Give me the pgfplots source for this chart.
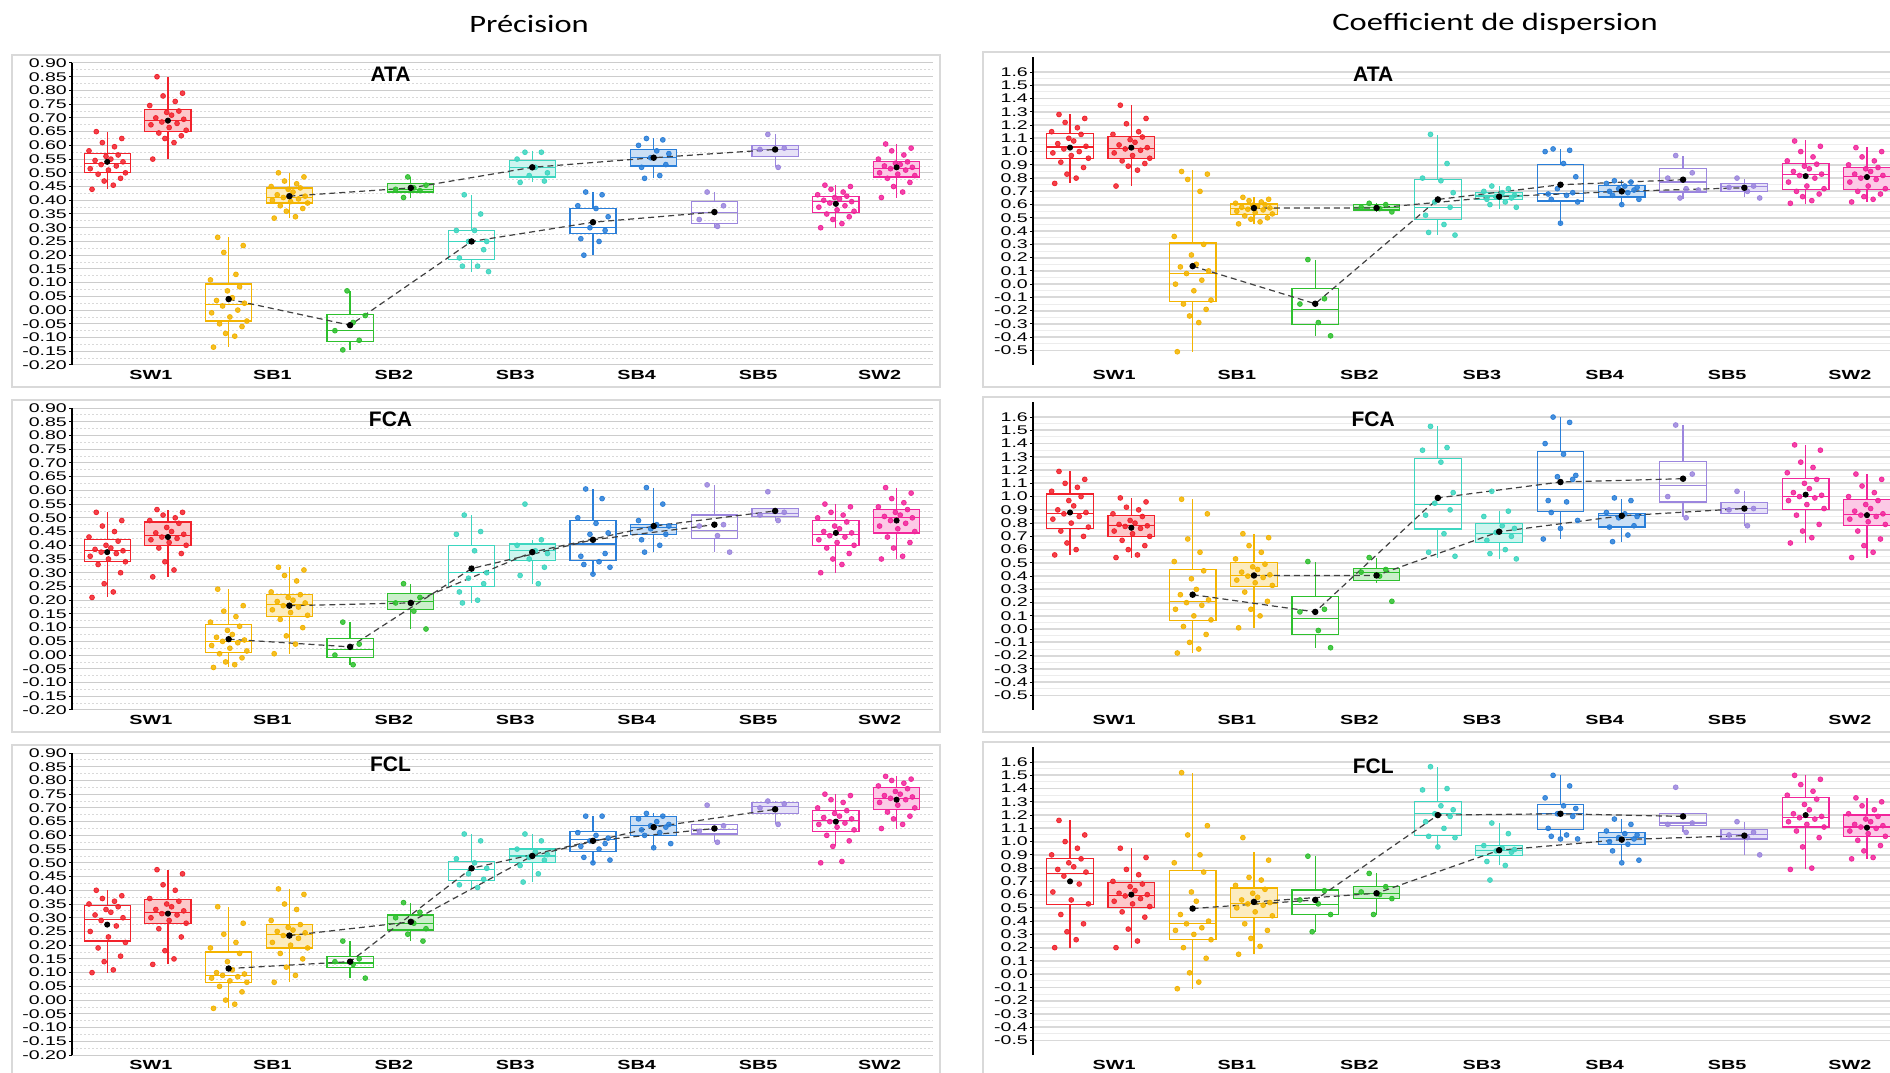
\documentclass[border=0pt]{standalone}
\usepackage{pgfplots}
\pgfplotsset{compat=1.18}
\usepgfplotslibrary{statistics}
\usepackage{fontspec}
\setmainfont{Liberation Sans}
\newfontfamily\carlito{Carlito}
\definecolor{cRed}{HTML}{F2222C}
\definecolor{cOra}{HTML}{F4B400}
\definecolor{cGre}{HTML}{2EC02E}
\definecolor{cCya}{HTML}{3DD6C0}
\definecolor{cBlu}{HTML}{2A7FD9}
\definecolor{cPur}{HTML}{9C86DE}
\definecolor{cMag}{HTML}{F2259B}
\newcommand{\BO}[7]{\addplot[draw=#2, line width=0.6pt, boxplot prepared={draw direction=y, draw position=#1, lower whisker=#3, lower quartile=#4, median=#5, upper quartile=#6, upper whisker=#7, box extend=0.76, whisker extend=0}] coordinates {};}
\newcommand{\BF}[7]{\addplot[draw=#2, fill=#2!25, line width=0.6pt, boxplot prepared={draw direction=y, draw position=#1, lower whisker=#3, lower quartile=#4, median=#5, upper quartile=#6, upper whisker=#7, box extend=0.76, whisker extend=0}] coordinates {};}
\newcommand{\PTS}[2]{\addplot[only marks, mark=*, mark size=1.2pt, color=#1, mark options={draw=none, fill=#1, fill opacity=0.85}] coordinates {#2};}
\newcommand{\MEANS}[1]{\addplot[only marks, mark=*, mark size=1.3pt, black] coordinates {#1};}
\newcommand{\LINE}[1]{\addplot[black!75, line width=0.6pt, dash pattern=on 3pt off 2pt, mark=*, mark size=1.3pt, mark options={solid, fill=black, draw=black}] coordinates {#1};}
\tikzset{ptitle/.style={font=\bfseries\fontsize{10.5}{12}\selectfont}}
\pgfplotsset{
  basep/.style={scale only axis, axis y line*=left, axis x line*=bottom,
    x axis line style={draw=none}, y axis line style={black, line width=0.6pt},
    xtick={1.72,3.72,5.72,7.72,9.72,11.72,13.72},
    xticklabels={SW1,SB1,SB2,SB3,SB4,SB5,SW2},
    xtick style={draw=none}, ytick style={black, line width=0.5pt},
    tick align=outside, major tick length=1.5pt, minor tick length=0pt,
    ymajorgrids, yminorgrids, scaled y ticks=false,
    /pgf/number format/assume math mode=true,
    xticklabel style={font=\bfseries\fontsize{6.6}{7}\selectfont, xscale=1.5, inner sep=1pt},
    clip=true},
  leftp/.style={basep, width=430.5pt, height=151pt, xmin=0.42, xmax=14.6, ymin=-0.2, ymax=0.9,
    ytick={-0.2,-0.15,-0.1,-0.05,0,0.05,0.1,0.15,0.2,0.25,0.3,0.35,0.4,0.45,0.5,0.55,0.6,0.65,0.7,0.75,0.8,0.85,0.9},
    minor ytick={-0.175,-0.125,-0.075,-0.025,0.025,0.075,0.125,0.175,0.225,0.275,0.325,0.375,0.425,0.475,0.525,0.575,0.625,0.675,0.725,0.775,0.825,0.875},
    yticklabel style={/pgf/number format/fixed, /pgf/number format/fixed zerofill, /pgf/number format/precision=2, /pgf/number format/assume math mode=true, font=\fontsize{6.3}{7}\selectfont, xscale=1.55, inner xsep=0.5pt},
    major grid style={gray!40, line width=0.5pt},
    minor grid style={gray!30, dash pattern=on 1pt off 1pt, line width=0.4pt}},
  rightp/.style={basep, width=428.5pt, height=153.75pt, xmin=0.396, xmax=14.376, ymin=-0.61, ymax=1.71,
    ytick={-0.5,-0.4,-0.3,-0.2,-0.1,0,0.1,0.2,0.3,0.4,0.5,0.6,0.7,0.8,0.9,1.0,1.1,1.2,1.3,1.4,1.5,1.6},
    minor ytick={-0.45,-0.35,-0.25,-0.15,-0.05,0.05,0.15,0.25,0.35,0.45,0.55,0.65,0.75,0.85,0.95,1.05,1.15,1.25,1.35,1.45,1.55},
    yticklabel style={/pgf/number format/fixed, /pgf/number format/fixed zerofill, /pgf/number format/precision=1, /pgf/number format/assume math mode=true, font=\fontsize{6.3}{7}\selectfont, xscale=1.55, inner xsep=0.5pt},
    major grid style={gray!30, line width=0.9pt},
    minor grid style={gray!15, line width=0.5pt}}
}
\begin{document}
\begin{tikzpicture}
\useasboundingbox (0,0) rectangle (945pt,536pt);
\clip (0,0) rectangle (945pt,536pt);
\fill[white] (0,0) rectangle (945pt,536pt);
% frames
\draw[gray!30, line width=1pt] (6pt,342.5pt) rectangle (470pt,508.5pt);
\draw[gray!30, line width=1pt] (6pt,170pt) rectangle (470pt,336pt);
\draw[gray!30, line width=1pt] (6pt,-1.5pt) rectangle (470pt,163.5pt);
\draw[gray!30, line width=1pt] (491.5pt,342.5pt) rectangle (947.5pt,510pt);
\draw[gray!30, line width=1pt] (491.5pt,170pt) rectangle (947.5pt,337.5pt);
\draw[gray!30, line width=1pt] (491.5pt,-1.5pt) rectangle (947.5pt,165pt);
\node[font=\carlito\fontsize{12.5}{14}\selectfont, xscale=1.3] at (264.5pt,524pt) {Précision};
\node[font=\carlito\fontsize{12.5}{14}\selectfont, xscale=1.3] at (747.5pt,524pt) {Coefficient de dispersion};

% ===== A1 =====
\begin{axis}[leftp, at={(36pt,353.5pt)}, anchor=south west]
\BO{1}{cRed}{0.44}{0.50}{0.535}{0.57}{0.65}
\PTS{cRed}{(0.75,0.44)(1.1,0.455)(0.95,0.47)(1.22,0.48)(0.85,0.495)(1.3,0.50)(1.02,0.51)(0.72,0.515)(1.15,0.525)(0.9,0.53)(1.26,0.54)(0.8,0.545)(1.06,0.55)(0.98,0.56)(1.18,0.565)(0.7,0.58)(1.12,0.595)(0.92,0.61)(1.24,0.625)(0.82,0.65)}
\BF{2}{cRed}{0.55}{0.65}{0.69}{0.73}{0.85}
\PTS{cRed}{(1.75,0.55)(2.1,0.61)(1.95,0.625)(2.22,0.635)(1.85,0.645)(2.3,0.655)(2.02,0.665)(1.72,0.675)(2.15,0.68)(1.9,0.685)(2.26,0.695)(1.8,0.70)(2.06,0.71)(1.98,0.72)(2.18,0.725)(1.7,0.745)(2.12,0.76)(1.92,0.78)(2.24,0.79)(1.82,0.85)}
\BO{3}{cOra}{-0.135}{-0.04}{0.02}{0.095}{0.265}
\PTS{cOra}{(2.75,-0.135)(3.1,-0.095)(2.95,-0.085)(3.22,-0.06)(2.85,-0.05)(3.3,-0.04)(3.02,-0.025)(2.72,-0.01)(3.15,0)(2.9,0.015)(3.26,0.025)(2.8,0.035)(3.06,0.045)(2.98,0.07)(3.18,0.085)(2.7,0.11)(3.12,0.13)(2.92,0.21)(3.24,0.235)(2.82,0.265)}
\BF{4}{cOra}{0.335}{0.39}{0.41}{0.445}{0.50}
\PTS{cOra}{(3.75,0.335)(4.1,0.34)(3.95,0.36)(4.22,0.37)(3.85,0.38)(4.3,0.39)(4.02,0.395)(3.72,0.40)(4.15,0.405)(3.9,0.41)(4.26,0.415)(3.8,0.42)(4.06,0.43)(3.98,0.44)(4.18,0.445)(3.7,0.45)(4.12,0.46)(3.92,0.47)(4.24,0.485)(3.82,0.50)}
\BO{5}{cGre}{-0.145}{-0.115}{-0.075}{-0.015}{0.07}
\PTS{cGre}{(4.88,-0.145)(5.15,-0.11)(4.75,-0.075)(5.05,-0.045)(5.25,-0.02)(4.95,0.07)}
\BF{6}{cGre}{0.41}{0.43}{0.44}{0.46}{0.485}
\PTS{cGre}{(5.88,0.41)(6.15,0.435)(5.75,0.44)(6.05,0.445)(6.25,0.455)(5.95,0.485)}
\BO{7}{cCya}{0.14}{0.185}{0.25}{0.29}{0.42}
\PTS{cCya}{(6.88,0.42)(7.15,0.35)(6.75,0.29)(7.05,0.29)(7.25,0.25)(6.95,0.25)(7.2,0.22)(6.8,0.19)(7.1,0.16)(6.85,0.16)(7.28,0.14)}
\BF{8}{cCya}{0.465}{0.485}{0.52}{0.545}{0.58}
\PTS{cCya}{(7.88,0.575)(8.15,0.575)(7.75,0.55)(8.05,0.52)(8.25,0.50)(7.95,0.49)(8.2,0.47)(7.8,0.465)}
\BO{9}{cBlu}{0.20}{0.28}{0.30}{0.37}{0.43}
\PTS{cBlu}{(8.88,0.43)(9.15,0.42)(8.75,0.38)(9.05,0.37)(9.25,0.34)(8.95,0.30)(9.2,0.29)(8.8,0.26)(9.1,0.25)(8.85,0.20)}
\BF{10}{cBlu}{0.48}{0.525}{0.555}{0.585}{0.625}
\PTS{cBlu}{(9.88,0.625)(10.15,0.62)(9.75,0.60)(10.05,0.58)(10.25,0.57)(9.95,0.555)(10.2,0.53)(9.8,0.52)(10.1,0.49)(9.85,0.48)}
\BO{11}{cPur}{0.30}{0.315}{0.355}{0.395}{0.43}
\PTS{cPur}{(10.88,0.43)(11.15,0.38)(10.75,0.33)(11.05,0.305)}
\BF{12}{cPur}{0.52}{0.56}{0.585}{0.60}{0.64}
\PTS{cPur}{(11.88,0.64)(12.15,0.59)(11.75,0.585)(12.05,0.52)}
\BO{13}{cMag}{0.30}{0.355}{0.395}{0.415}{0.455}
\PTS{cMag}{(12.75,0.30)(13.1,0.315)(12.95,0.33)(13.22,0.34)(12.85,0.35)(13.3,0.36)(13.02,0.365)(12.72,0.375)(13.15,0.38)(12.9,0.39)(13.26,0.395)(12.8,0.40)(13.06,0.405)(12.98,0.41)(13.18,0.415)(12.7,0.42)(13.12,0.43)(12.92,0.44)(13.24,0.45)(12.82,0.455)}
\BF{14}{cMag}{0.41}{0.485}{0.517}{0.54}{0.605}
\PTS{cMag}{(13.75,0.41)(14.1,0.43)(13.95,0.45)(14.22,0.465)(13.85,0.48)(14.3,0.49)(14.02,0.495)(13.72,0.50)(14.15,0.51)(13.9,0.515)(14.26,0.52)(13.8,0.525)(14.06,0.53)(13.98,0.535)(14.18,0.54)(13.7,0.55)(14.12,0.565)(13.92,0.58)(14.24,0.59)(13.82,0.605)}
\MEANS{(1,0.54)(2,0.69)(13,0.387)(14,0.52)}
\LINE{(3,0.04)(5,-0.055)(7,0.25)(9,0.32)(11,0.357)}
\LINE{(4,0.415)(6,0.445)(8,0.52)(10,0.555)(12,0.585)}
\node[ptitle] at (rel axis cs:0.37,0.964) {ATA};
\end{axis}

% ===== B1 =====
\begin{axis}[rightp, at={(516.5pt,353.5pt)}, anchor=south west]
\BO{1}{cRed}{0.76}{0.95}{1.035}{1.135}{1.28}
\PTS{cRed}{(0.75,0.76)(1.1,0.80)(0.95,0.83)(1.22,0.88)(0.85,0.92)(1.3,0.95)(1.02,0.97)(0.72,0.99)(1.15,1.0)(0.9,1.02)(1.26,1.04)(0.8,1.06)(1.06,1.08)(0.98,1.10)(1.18,1.13)(0.7,1.15)(1.12,1.18)(0.92,1.22)(1.24,1.25)(0.82,1.28)}
\BF{2}{cRed}{0.74}{0.95}{1.025}{1.115}{1.35}
\PTS{cRed}{(1.75,0.74)(2.1,0.86)(1.95,0.89)(2.22,0.91)(1.85,0.93)(2.3,0.95)(2.02,0.97)(1.72,0.99)(2.15,1.01)(1.9,1.02)(2.26,1.03)(1.8,1.05)(2.06,1.07)(1.98,1.09)(2.18,1.11)(1.7,1.13)(2.12,1.15)(1.92,1.21)(2.24,1.25)(1.82,1.35)}
\BO{3}{cOra}{-0.51}{-0.13}{0.083}{0.31}{0.858}
\PTS{cOra}{(2.75,-0.51)(3.1,-0.29)(2.95,-0.24)(3.22,-0.19)(2.85,-0.15)(3.3,-0.12)(3.02,-0.05)(2.72,0.0)(3.15,0.03)(2.9,0.08)(3.26,0.10)(2.8,0.13)(3.06,0.15)(2.98,0.22)(3.18,0.30)(2.7,0.36)(3.12,0.70)(2.92,0.79)(3.24,0.83)(2.82,0.85)}
\BF{4}{cOra}{0.455}{0.525}{0.57}{0.605}{0.655}
\PTS{cOra}{(3.75,0.455)(4.1,0.47)(3.95,0.49)(4.22,0.50)(3.85,0.515)(4.3,0.53)(4.02,0.54)(3.72,0.55)(4.15,0.56)(3.9,0.565)(4.26,0.575)(3.8,0.58)(4.06,0.59)(3.98,0.595)(4.18,0.60)(3.7,0.61)(4.12,0.62)(3.92,0.63)(4.24,0.64)(3.82,0.655)}
\BO{5}{cGre}{-0.39}{-0.305}{-0.19}{-0.03}{0.185}
\PTS{cGre}{(4.88,0.185)(5.15,-0.11)(4.75,-0.15)(5.05,-0.29)(5.25,-0.39)}
\BF{6}{cGre}{0.545}{0.56}{0.58}{0.60}{0.61}
\PTS{cGre}{(5.88,0.61)(6.15,0.60)(5.75,0.58)(6.05,0.57)(6.25,0.545)}
\BO{7}{cCya}{0.37}{0.486}{0.58}{0.788}{1.127}
\PTS{cCya}{(6.88,1.13)(7.15,0.91)(6.75,0.80)(7.05,0.78)(7.25,0.69)(6.95,0.62)(7.2,0.58)(6.8,0.52)(7.1,0.45)(6.85,0.39)(7.28,0.37)}
\BF{8}{cCya}{0.57}{0.64}{0.665}{0.694}{0.74}
\PTS{cCya}{(7.88,0.74)(8.15,0.72)(7.75,0.70)(8.05,0.69)(8.25,0.67)(7.95,0.66)(8.2,0.65)(7.8,0.64)(8.1,0.62)(7.85,0.60)(8.28,0.58)}
\BO{9}{cBlu}{0.455}{0.627}{0.682}{0.903}{1.02}
\PTS{cBlu}{(8.88,1.02)(9.15,1.01)(8.75,1.0)(9.05,0.91)(9.25,0.81)(8.95,0.72)(9.2,0.69)(8.8,0.68)(9.1,0.67)(8.85,0.64)(9.28,0.62)(9.0,0.46)}
\BF{10}{cBlu}{0.594}{0.657}{0.70}{0.745}{0.782}
\PTS{cBlu}{(9.88,0.78)(10.15,0.77)(9.75,0.76)(10.05,0.74)(10.25,0.73)(9.95,0.72)(10.2,0.71)(9.8,0.70)(10.1,0.69)(9.85,0.67)(10.28,0.64)(10.0,0.60)}
\BO{11}{cPur}{0.644}{0.695}{0.77}{0.87}{0.964}
\PTS{cPur}{(10.88,0.97)(11.15,0.84)(10.75,0.80)(11.05,0.72)(11.25,0.71)(10.95,0.65)}
\BF{12}{cPur}{0.657}{0.70}{0.737}{0.762}{0.795}
\PTS{cPur}{(11.88,0.80)(12.15,0.74)(11.75,0.73)(12.05,0.70)(12.25,0.65)}
\BO{13}{cMag}{0.607}{0.712}{0.825}{0.908}{1.084}
\PTS{cMag}{(12.75,0.61)(13.1,0.63)(12.95,0.66)(13.22,0.68)(12.85,0.70)(13.3,0.72)(13.02,0.74)(12.72,0.77)(13.15,0.80)(12.9,0.82)(13.26,0.83)(12.8,0.85)(13.06,0.87)(12.98,0.89)(13.18,0.905)(12.7,0.93)(13.12,0.96)(12.92,1.0)(13.24,1.04)(12.82,1.08)}
\BF{14}{cMag}{0.619}{0.712}{0.813}{0.883}{1.034}
\PTS{cMag}{(13.75,0.62)(14.1,0.64)(13.95,0.66)(14.22,0.68)(13.85,0.70)(14.3,0.72)(14.02,0.74)(13.72,0.77)(14.15,0.79)(13.9,0.80)(14.26,0.82)(13.8,0.83)(14.06,0.85)(13.98,0.87)(14.18,0.88)(13.7,0.90)(14.12,0.93)(13.92,0.96)(14.24,1.0)(13.82,1.03)}
\MEANS{(1,1.03)(2,1.03)(13,0.815)(14,0.808)}
\LINE{(3,0.136)(5,-0.148)(7,0.639)(9,0.75)(11,0.788)}
\LINE{(4,0.574)(6,0.575)(8,0.66)(10,0.70)(12,0.727)}
\node[ptitle] at (rel axis cs:0.397,0.946) {ATA};
\end{axis}

% ===== A2 =====
\begin{axis}[leftp, at={(36pt,181pt)}, anchor=south west]
\BO{1}{cRed}{0.21}{0.34}{0.38}{0.42}{0.52}
\PTS{cRed}{(0.75,0.21)(1.1,0.23)(0.95,0.26)(1.22,0.30)(0.85,0.33)(1.3,0.34)(1.02,0.35)(0.72,0.36)(1.15,0.37)(0.9,0.375)(1.26,0.38)(0.8,0.385)(1.06,0.39)(0.98,0.40)(1.18,0.415)(0.7,0.43)(1.12,0.45)(0.92,0.47)(1.24,0.49)(0.82,0.52)}
\BF{2}{cRed}{0.285}{0.40}{0.435}{0.485}{0.53}
\PTS{cRed}{(1.75,0.285)(2.1,0.31)(1.95,0.34)(2.22,0.37)(1.85,0.39)(2.3,0.40)(2.02,0.41)(1.72,0.42)(2.15,0.425)(1.9,0.43)(2.26,0.44)(1.8,0.445)(2.06,0.45)(1.98,0.465)(2.18,0.48)(1.7,0.49)(2.12,0.50)(1.92,0.51)(2.24,0.52)(1.82,0.53)}
\BO{3}{cOra}{-0.045}{0.01}{0.05}{0.11}{0.24}
\PTS{cOra}{(2.75,-0.045)(3.1,-0.035)(2.95,-0.025)(3.22,-0.01)(2.85,0.005)(3.3,0.015)(3.02,0.025)(2.72,0.035)(3.15,0.045)(2.9,0.05)(3.26,0.055)(2.8,0.065)(3.06,0.075)(2.98,0.09)(3.18,0.105)(2.7,0.12)(3.12,0.14)(2.92,0.16)(3.24,0.18)(2.82,0.24)}
\BF{4}{cOra}{0.005}{0.14}{0.185}{0.22}{0.32}
\PTS{cOra}{(3.75,0.005)(4.1,0.04)(3.95,0.07)(4.22,0.10)(3.85,0.13)(4.3,0.145)(4.02,0.155)(3.72,0.165)(4.15,0.175)(3.9,0.18)(4.26,0.19)(3.8,0.195)(4.06,0.20)(3.98,0.21)(4.18,0.22)(3.7,0.23)(4.12,0.27)(3.92,0.29)(4.24,0.31)(3.82,0.32)}
\BO{5}{cGre}{-0.035}{-0.01}{0.02}{0.06}{0.12}
\PTS{cGre}{(4.88,0.12)(5.15,0.04)(4.75,0.0)(5.05,-0.035)}
\BF{6}{cGre}{0.095}{0.165}{0.195}{0.225}{0.26}
\PTS{cGre}{(5.88,0.26)(6.15,0.21)(5.75,0.19)(6.05,0.16)(6.25,0.095)}
\BO{7}{cCya}{0.19}{0.25}{0.30}{0.40}{0.51}
\PTS{cCya}{(6.88,0.51)(7.15,0.45)(6.75,0.44)(7.05,0.38)(7.25,0.30)(6.95,0.28)(7.2,0.26)(6.8,0.23)(7.1,0.20)(6.85,0.19)}
\BF{8}{cCya}{0.26}{0.345}{0.38}{0.405}{0.42}
\PTS{cCya}{(7.88,0.55)(8.15,0.42)(7.75,0.40)(8.05,0.38)(8.25,0.37)(7.95,0.35)(8.2,0.32)(7.8,0.29)(8.1,0.26)}
\BO{9}{cBlu}{0.295}{0.345}{0.405}{0.49}{0.605}
\PTS{cBlu}{(8.88,0.605)(9.15,0.57)(8.75,0.50)(9.05,0.48)(9.25,0.445)(8.95,0.44)(9.2,0.37)(8.8,0.36)(9.1,0.34)(8.85,0.33)(9.28,0.32)(9.0,0.295)}
\BF{10}{cBlu}{0.375}{0.44}{0.465}{0.475}{0.61}
\PTS{cBlu}{(9.88,0.61)(10.15,0.55)(9.75,0.49)(10.05,0.475)(10.25,0.47)(9.95,0.46)(10.2,0.44)(9.8,0.42)(10.1,0.40)(9.85,0.375)}
\BO{11}{cPur}{0.375}{0.425}{0.455}{0.51}{0.62}
\PTS{cPur}{(10.88,0.62)(11.15,0.475)(10.75,0.47)(11.05,0.435)(11.25,0.375)}
\BF{12}{cPur}{0.49}{0.505}{0.515}{0.535}{0.535}
\PTS{cPur}{(11.88,0.595)(12.15,0.52)(11.75,0.51)(12.05,0.49)}
\BO{13}{cMag}{0.30}{0.40}{0.44}{0.49}{0.55}
\PTS{cMag}{(12.75,0.30)(13.1,0.33)(12.95,0.35)(13.22,0.37)(12.85,0.39)(13.3,0.40)(13.02,0.41)(12.72,0.42)(13.15,0.43)(12.9,0.435)(13.26,0.445)(12.8,0.45)(13.06,0.46)(12.98,0.47)(13.18,0.485)(12.7,0.50)(13.12,0.51)(12.92,0.52)(13.24,0.54)(12.82,0.55)}
\BF{14}{cMag}{0.35}{0.445}{0.50}{0.53}{0.61}
\PTS{cMag}{(13.75,0.35)(14.1,0.36)(13.95,0.39)(14.22,0.41)(13.85,0.43)(14.3,0.45)(14.02,0.46)(13.72,0.47)(14.15,0.48)(13.9,0.49)(14.26,0.50)(13.8,0.505)(14.06,0.51)(13.98,0.52)(14.18,0.53)(13.7,0.54)(14.12,0.555)(13.92,0.57)(14.24,0.59)(13.82,0.61)}
\MEANS{(1,0.375)(2,0.43)(13,0.445)(14,0.49)}
\LINE{(3,0.058)(5,0.03)(7,0.315)(9,0.42)(11,0.475)}
\LINE{(4,0.18)(6,0.19)(8,0.375)(10,0.47)(12,0.525)}
\node[ptitle] at (rel axis cs:0.37,0.964) {FCA};
\end{axis}

% ===== B2 =====
\begin{axis}[rightp, at={(516.5pt,181pt)}, anchor=south west]
\BO{1}{cRed}{0.56}{0.76}{0.875}{1.02}{1.19}
\PTS{cRed}{(0.75,0.56)(1.1,0.60)(0.95,0.65)(1.22,0.70)(0.85,0.74)(1.3,0.77)(1.02,0.80)(0.72,0.83)(1.15,0.85)(0.9,0.87)(1.26,0.88)(0.8,0.90)(1.06,0.93)(0.98,0.97)(1.18,1.0)(0.7,1.04)(1.12,1.07)(0.92,1.10)(1.24,1.13)(0.82,1.19)}
\BF{2}{cRed}{0.54}{0.70}{0.78}{0.855}{0.99}
\PTS{cRed}{(1.75,0.54)(2.1,0.56)(1.95,0.60)(2.22,0.63)(1.85,0.67)(2.3,0.70)(2.02,0.72)(1.72,0.74)(2.15,0.76)(1.9,0.775)(2.26,0.78)(1.8,0.79)(2.06,0.80)(1.98,0.82)(2.18,0.85)(1.7,0.87)(2.12,0.90)(1.92,0.92)(2.24,0.96)(1.82,0.99)}
\BO{3}{cOra}{-0.18}{0.065}{0.21}{0.45}{0.98}
\PTS{cOra}{(2.75,-0.18)(3.1,-0.15)(2.95,-0.10)(3.22,-0.04)(2.85,0.02)(3.3,0.07)(3.02,0.10)(2.72,0.15)(3.15,0.18)(2.9,0.20)(3.26,0.22)(2.8,0.26)(3.06,0.30)(2.98,0.38)(3.18,0.44)(2.7,0.51)(3.12,0.58)(2.92,0.68)(3.24,0.87)(2.82,0.98)}
\BF{4}{cOra}{0.01}{0.32}{0.405}{0.50}{0.72}
\PTS{cOra}{(3.75,0.01)(4.1,0.10)(3.95,0.15)(4.22,0.21)(3.85,0.28)(4.3,0.33)(4.02,0.35)(3.72,0.37)(4.15,0.39)(3.9,0.40)(4.26,0.41)(3.8,0.43)(4.06,0.45)(3.98,0.47)(4.18,0.49)(3.7,0.53)(4.12,0.58)(3.92,0.63)(4.24,0.69)(3.82,0.72)}
\BO{5}{cGre}{-0.14}{-0.04}{0.08}{0.245}{0.51}
\PTS{cGre}{(4.88,0.51)(5.15,0.15)(4.75,0.13)(5.05,-0.01)(5.25,-0.14)}
\BF{6}{cGre}{0.35}{0.37}{0.43}{0.46}{0.54}
\PTS{cGre}{(5.88,0.54)(6.15,0.45)(5.75,0.43)(6.05,0.40)(6.25,0.21)}
\BO{7}{cCya}{0.54}{0.755}{0.94}{1.29}{1.53}
\PTS{cCya}{(6.88,1.53)(7.15,1.37)(6.75,1.35)(7.05,1.26)(7.25,1.03)(6.95,0.95)(7.2,0.90)(6.8,0.86)(7.1,0.72)(6.85,0.58)(7.28,0.55)}
\BF{8}{cCya}{0.53}{0.655}{0.72}{0.80}{0.89}
\PTS{cCya}{(7.88,1.04)(8.15,0.89)(7.75,0.85)(8.05,0.78)(8.25,0.76)(7.95,0.73)(8.2,0.70)(7.8,0.67)(8.1,0.60)(7.85,0.57)(8.28,0.53)}
\BO{9}{cBlu}{0.68}{0.89}{1.055}{1.34}{1.60}
\PTS{cBlu}{(8.88,1.60)(9.15,1.56)(8.75,1.40)(9.05,1.32)(9.25,1.16)(8.95,1.15)(9.2,1.13)(8.8,0.97)(9.1,0.96)(8.85,0.88)(9.28,0.82)(9.0,0.76)(8.72,0.68)}
\BF{10}{cBlu}{0.66}{0.77}{0.86}{0.875}{0.985}
\PTS{cBlu}{(9.88,0.99)(10.15,0.97)(9.75,0.88)(10.05,0.87)(10.25,0.85)(9.95,0.84)(10.2,0.78)(9.8,0.77)(10.1,0.71)(9.85,0.66)}
\BO{11}{cPur}{0.845}{0.96}{1.085}{1.265}{1.54}
\PTS{cPur}{(10.88,1.54)(11.15,1.17)(10.75,1.00)(11.05,0.84)}
\BF{12}{cPur}{0.78}{0.87}{0.91}{0.955}{1.04}
\PTS{cPur}{(11.88,1.04)(12.15,0.91)(11.75,0.90)(12.05,0.78)}
\BO{13}{cMag}{0.65}{0.905}{1.0}{1.135}{1.39}
\PTS{cMag}{(12.75,0.65)(13.1,0.69)(12.95,0.74)(13.22,0.79)(12.85,0.86)(13.3,0.91)(13.02,0.94)(12.72,0.97)(13.15,0.99)(12.9,1.0)(13.26,1.01)(12.8,1.03)(13.06,1.06)(12.98,1.10)(13.18,1.13)(12.7,1.18)(13.12,1.22)(12.92,1.26)(13.24,1.35)(12.82,1.39)}
\BF{14}{cMag}{0.54}{0.78}{0.865}{0.98}{1.17}
\PTS{cMag}{(13.75,0.54)(14.1,0.58)(13.95,0.63)(14.22,0.68)(13.85,0.74)(14.3,0.79)(14.02,0.81)(13.72,0.83)(14.15,0.85)(13.9,0.86)(14.26,0.87)(13.8,0.89)(14.06,0.91)(13.98,0.94)(14.18,0.97)(13.7,1.0)(14.12,1.03)(13.92,1.08)(14.24,1.13)(13.82,1.17)}
\MEANS{(1,0.88)(2,0.765)(13,1.015)(14,0.86)}
\LINE{(3,0.26)(5,0.13)(7,0.99)(9,1.11)(11,1.135)}
\LINE{(4,0.405)(6,0.405)(8,0.735)(10,0.855)(12,0.91)}
\node[ptitle] at (rel axis cs:0.397,0.946) {FCA};
\end{axis}

% ===== A3 =====
\begin{axis}[leftp, at={(36pt,8.5pt)}, anchor=south west]
\BO{1}{cRed}{0.10}{0.215}{0.295}{0.345}{0.40}
\PTS{cRed}{(0.75,0.10)(1.1,0.11)(0.95,0.14)(1.22,0.16)(0.85,0.19)(1.3,0.21)(1.02,0.23)(0.72,0.25)(1.15,0.27)(0.9,0.29)(1.26,0.30)(0.8,0.31)(1.06,0.32)(0.98,0.33)(1.18,0.34)(0.7,0.35)(1.12,0.36)(0.92,0.37)(1.24,0.38)(0.82,0.40)}
\BF{2}{cRed}{0.13}{0.28}{0.32}{0.365}{0.475}
\PTS{cRed}{(1.75,0.13)(2.1,0.15)(1.95,0.18)(2.22,0.23)(1.85,0.26)(2.3,0.28)(2.02,0.29)(1.72,0.30)(2.15,0.31)(1.9,0.315)(2.26,0.325)(1.8,0.33)(2.06,0.34)(1.98,0.35)(2.18,0.36)(1.7,0.37)(2.12,0.40)(1.92,0.42)(2.24,0.46)(1.82,0.475)}
\BO{3}{cOra}{-0.03}{0.065}{0.09}{0.175}{0.34}
\PTS{cOra}{(2.75,-0.03)(3.1,-0.015)(2.95,0.0)(3.22,0.03)(2.85,0.05)(3.3,0.065)(3.02,0.07)(2.72,0.08)(3.15,0.085)(2.9,0.09)(3.26,0.095)(2.8,0.10)(3.06,0.11)(2.98,0.14)(3.18,0.17)(2.7,0.19)(3.12,0.21)(2.92,0.24)(3.24,0.28)(2.82,0.34)}
\BF{4}{cOra}{0.065}{0.19}{0.24}{0.275}{0.405}
\PTS{cOra}{(3.75,0.065)(4.1,0.09)(3.95,0.12)(4.22,0.15)(3.85,0.17)(4.3,0.19)(4.02,0.20)(3.72,0.21)(4.15,0.225)(3.9,0.235)(4.26,0.245)(3.8,0.25)(4.06,0.255)(3.98,0.265)(4.18,0.275)(3.7,0.29)(4.12,0.33)(3.92,0.35)(4.24,0.385)(3.82,0.405)}
\BO{5}{cGre}{0.08}{0.12}{0.135}{0.16}{0.215}
\PTS{cGre}{(4.88,0.215)(5.15,0.15)(4.75,0.14)(5.05,0.13)(5.25,0.08)}
\BF{6}{cGre}{0.215}{0.255}{0.28}{0.31}{0.355}
\PTS{cGre}{(5.88,0.355)(6.15,0.32)(5.75,0.30)(6.05,0.28)(6.25,0.26)(5.95,0.24)(6.2,0.215)}
\BO{7}{cCya}{0.41}{0.435}{0.475}{0.505}{0.605}
\PTS{cCya}{(6.88,0.605)(7.15,0.58)(6.75,0.515)(7.05,0.50)(7.25,0.48)(6.95,0.46)(7.2,0.44)(6.8,0.42)(7.1,0.41)}
\BF{8}{cCya}{0.43}{0.50}{0.525}{0.55}{0.605}
\PTS{cCya}{(7.88,0.605)(8.15,0.58)(7.75,0.55)(8.05,0.54)(8.25,0.53)(7.95,0.52)(8.2,0.51)(7.8,0.49)(8.1,0.46)(7.85,0.43)}
\BO{9}{cBlu}{0.50}{0.54}{0.585}{0.615}{0.67}
\PTS{cBlu}{(8.88,0.67)(9.15,0.67)(8.75,0.61)(9.05,0.60)(9.25,0.59)(8.95,0.58)(9.2,0.57)(8.8,0.56)(9.1,0.55)(8.85,0.52)(9.28,0.51)(9.0,0.50)}
\BF{10}{cBlu}{0.555}{0.60}{0.635}{0.67}{0.68}
\PTS{cBlu}{(9.88,0.68)(10.15,0.67)(9.75,0.66)(10.05,0.65)(10.25,0.64)(9.95,0.635)(10.2,0.63)(9.8,0.62)(10.1,0.61)(9.85,0.60)(10.28,0.57)(10.0,0.555)}
\BO{11}{cPur}{0.575}{0.605}{0.62}{0.64}{0.64}
\PTS{cPur}{(10.88,0.71)(11.15,0.635)(10.75,0.615)(11.05,0.575)}
\BF{12}{cPur}{0.64}{0.68}{0.705}{0.72}{0.725}
\PTS{cPur}{(11.88,0.725)(12.15,0.715)(11.75,0.70)(12.05,0.64)}
\BO{13}{cMag}{0.56}{0.615}{0.655}{0.69}{0.75}
\PTS{cMag}{(12.75,0.50)(13.1,0.505)(12.95,0.56)(13.22,0.58)(12.85,0.60)(13.3,0.62)(13.02,0.63)(12.72,0.64)(13.15,0.645)(12.9,0.65)(13.26,0.66)(12.8,0.665)(13.06,0.67)(12.98,0.68)(13.18,0.69)(12.7,0.70)(13.12,0.72)(12.92,0.73)(13.24,0.745)(12.82,0.75)}
\BF{14}{cMag}{0.625}{0.695}{0.735}{0.775}{0.815}
\PTS{cMag}{(13.75,0.625)(14.1,0.64)(13.95,0.66)(14.22,0.67)(13.85,0.685)(14.3,0.70)(14.02,0.71)(13.72,0.72)(14.15,0.73)(13.9,0.735)(14.26,0.74)(13.8,0.745)(14.06,0.75)(13.98,0.76)(14.18,0.77)(13.7,0.78)(14.12,0.79)(13.92,0.80)(14.24,0.805)(13.82,0.815)}
\MEANS{(1,0.275)(2,0.315)(13,0.65)(14,0.73)}
\LINE{(3,0.115)(5,0.14)(7,0.48)(9,0.58)(11,0.625)}
\LINE{(4,0.235)(6,0.285)(8,0.525)(10,0.63)(12,0.695)}
\node[ptitle] at (rel axis cs:0.37,0.964) {FCL};
\end{axis}

% ===== B3 =====
\begin{axis}[rightp, at={(516.5pt,8.5pt)}, anchor=south west]
\BO{1}{cRed}{0.20}{0.525}{0.76}{0.875}{1.16}
\PTS{cRed}{(0.75,0.20)(1.1,0.26)(0.95,0.32)(1.22,0.38)(0.85,0.45)(1.3,0.53)(1.02,0.56)(0.72,0.62)(1.15,0.68)(0.9,0.74)(1.26,0.77)(0.8,0.79)(1.06,0.81)(0.98,0.84)(1.18,0.87)(0.7,0.90)(1.12,0.95)(0.92,1.0)(1.24,1.05)(0.82,1.16)}
\BF{2}{cRed}{0.20}{0.50}{0.595}{0.69}{0.95}
\PTS{cRed}{(1.75,0.20)(2.1,0.25)(1.95,0.34)(2.22,0.43)(1.85,0.47)(2.3,0.51)(2.02,0.53)(1.72,0.55)(2.15,0.57)(1.9,0.59)(2.26,0.60)(1.8,0.61)(2.06,0.63)(1.98,0.66)(2.18,0.68)(1.7,0.70)(2.12,0.75)(1.92,0.79)(2.24,0.88)(1.82,0.95)}
\BO{3}{cOra}{-0.11}{0.26}{0.38}{0.78}{1.52}
\PTS{cOra}{(2.75,-0.11)(3.1,-0.06)(2.95,0.01)(3.22,0.12)(2.85,0.20)(3.3,0.26)(3.02,0.30)(2.72,0.33)(3.15,0.35)(2.9,0.38)(3.26,0.40)(2.8,0.45)(3.06,0.55)(2.98,0.62)(3.18,0.77)(2.7,0.84)(3.12,0.90)(2.92,1.05)(3.24,1.12)(2.82,1.52)}
\BF{4}{cOra}{0.15}{0.43}{0.535}{0.65}{0.92}
\PTS{cOra}{(3.75,0.15)(4.1,0.21)(3.95,0.27)(4.22,0.33)(3.85,0.38)(4.3,0.44)(4.02,0.47)(3.72,0.50)(4.15,0.52)(3.9,0.53)(4.26,0.54)(3.8,0.56)(4.06,0.58)(3.98,0.61)(4.18,0.64)(3.7,0.67)(4.12,0.71)(3.92,0.73)(4.24,0.86)(3.82,1.03)}
\BO{5}{cGre}{0.32}{0.45}{0.525}{0.635}{0.89}
\PTS{cGre}{(4.88,0.89)(5.15,0.63)(4.75,0.56)(5.05,0.53)(5.25,0.45)(4.95,0.32)}
\BF{6}{cGre}{0.45}{0.57}{0.61}{0.66}{0.76}
\PTS{cGre}{(5.88,0.76)(6.15,0.66)(5.75,0.62)(6.05,0.60)(6.25,0.57)(5.95,0.45)}
\BO{7}{cCya}{0.96}{1.045}{1.21}{1.30}{1.565}
\PTS{cCya}{(6.88,1.565)(7.15,1.40)(6.75,1.39)(7.05,1.27)(7.25,1.24)(6.95,1.21)(7.2,1.19)(6.8,1.15)(7.1,1.10)(6.85,1.04)(7.28,1.03)(7.0,0.96)}
\BF{8}{cCya}{0.82}{0.895}{0.935}{0.97}{1.14}
\PTS{cCya}{(7.88,1.14)(8.15,1.06)(7.75,0.97)(8.05,0.95)(8.25,0.94)(7.95,0.93)(8.2,0.92)(7.8,0.85)(8.1,0.82)(7.85,0.71)}
\BO{9}{cBlu}{1.02}{1.09}{1.21}{1.28}{1.50}
\PTS{cBlu}{(8.88,1.50)(9.15,1.42)(8.75,1.33)(9.05,1.27)(9.25,1.25)(8.95,1.21)(9.2,1.19)(8.8,1.10)(9.1,1.05)(8.85,1.04)(9.28,1.02)(9.0,1.02)}
\BF{10}{cBlu}{0.86}{0.98}{1.03}{1.07}{1.17}
\PTS{cBlu}{(9.88,1.17)(10.15,1.13)(9.75,1.08)(10.05,1.06)(10.25,1.05)(9.95,1.03)(10.2,1.02)(9.8,1.0)(10.1,0.98)(9.85,0.93)(10.28,0.86)(10.0,0.84)}
\BO{11}{cPur}{1.07}{1.12}{1.14}{1.21}{1.21}
\PTS{cPur}{(10.88,1.41)(11.15,1.14)(10.75,1.13)(11.05,1.07)}
\BF{12}{cPur}{0.90}{1.02}{1.055}{1.09}{1.15}
\PTS{cPur}{(11.88,1.15)(12.15,1.07)(11.75,1.05)(12.05,1.03)(12.25,0.90)}
\BO{13}{cMag}{0.79}{1.11}{1.18}{1.33}{1.50}
\PTS{cMag}{(12.75,0.79)(13.1,0.80)(12.95,0.96)(13.22,1.03)(12.85,1.08)(13.3,1.11)(13.02,1.13)(12.72,1.15)(13.15,1.17)(12.9,1.18)(13.26,1.19)(12.8,1.21)(13.06,1.24)(12.98,1.28)(13.18,1.32)(12.7,1.35)(13.12,1.38)(12.92,1.43)(13.24,1.47)(12.82,1.50)}
\BF{14}{cMag}{0.87}{1.04}{1.11}{1.20}{1.33}
\PTS{cMag}{(13.75,0.87)(14.1,0.88)(13.95,0.93)(14.22,0.97)(13.85,1.01)(14.3,1.04)(14.02,1.06)(13.72,1.08)(14.15,1.10)(13.9,1.11)(14.26,1.12)(13.8,1.13)(14.06,1.15)(13.98,1.17)(14.18,1.19)(13.7,1.21)(14.12,1.24)(13.92,1.27)(14.24,1.30)(13.82,1.33)}
\MEANS{(1,0.70)(2,0.60)(13,1.20)(14,1.105)}
\LINE{(3,0.495)(5,0.56)(7,1.20)(9,1.21)(11,1.19)}
\LINE{(4,0.545)(6,0.61)(8,0.935)(10,1.015)(12,1.045)}
\node[ptitle] at (rel axis cs:0.397,0.94) {FCL};
\end{axis}
\end{tikzpicture}
\end{document}
